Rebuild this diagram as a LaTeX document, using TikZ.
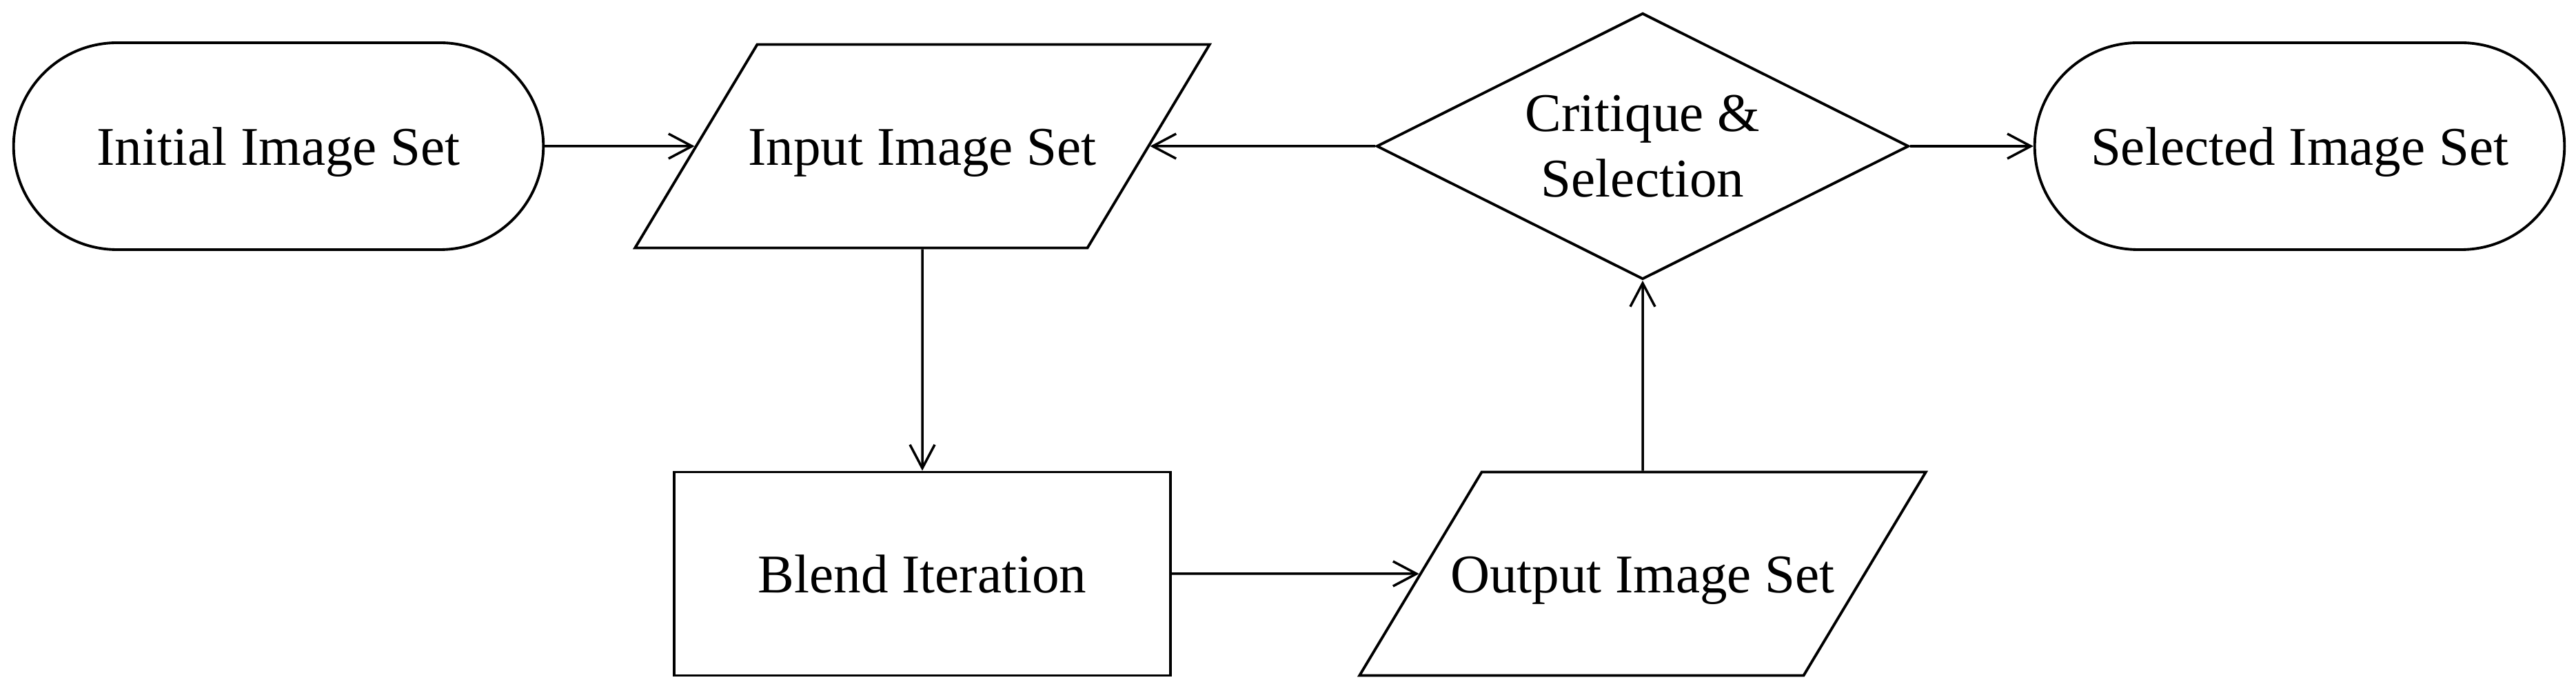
\documentclass[tikz,border=0pt]{standalone}
\usepackage{fontspec}
\setmainfont{Liberation Serif}
\usetikzlibrary{shapes.geometric,shapes.misc,arrows.meta}

\begin{document}
\begin{tikzpicture}[
  every node/.style={font=\fontsize{22.5}{27}\selectfont,text height=0.75cm,text depth=0.19cm},
  term/.style={rounded rectangle,draw,line width=1.1pt,minimum width=7.92cm,minimum height=3cm},
  io/.style={trapezium,trapezium left angle=59,trapezium right angle=121,draw,line width=1.1pt,
    inner xsep=0pt,inner ysep=1.005cm},
  proc/.style={rectangle,draw,line width=1.1pt,minimum width=7.2cm,minimum height=2.95cm},
  decision/.style={diamond,aspect=2,draw,line width=1.1pt,minimum width=7.72cm,minimum height=3.86cm,
    inner sep=0pt,align=center,text height=,text depth=},
  flow/.style={-{Straight Barb[length=0.34cm,width=0.36cm]},line width=1pt}
]
\useasboundingbox (0,0) rectangle (37.37,10.02);
\node[term] (init) at (4.04,7.90) {Initial Image Set};
\node[io] (input) at (13.38,7.90) {\makebox[4.79cm]{Input Image Set}};
\node[decision] (crit) at (23.83,7.90) {Critique \&\\Selection};
\node[term] (sel) at (33.36,7.90) {Selected Image Set};
\node[proc] (blend) at (13.38,1.70) {Blend Iteration};
\node[io] (output) at (23.83,1.70) {\makebox[4.67cm]{Output Image Set}};
\draw[flow] (init) -- (input);
\draw[flow] (crit) -- (input);
\draw[flow] (crit) -- (sel);
\draw[flow] (input) -- (blend);
\draw[flow] (blend) -- (output);
\draw[flow] (output) -- (crit);
\end{tikzpicture}
\end{document}
